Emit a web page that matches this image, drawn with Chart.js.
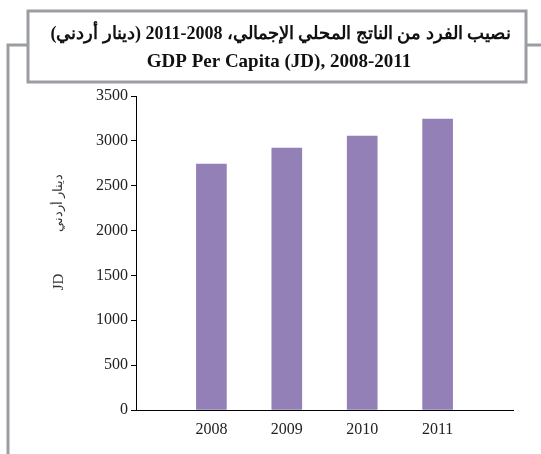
<!DOCTYPE html>
<html>
<head>
<meta charset="utf-8">
<script src="https://cdn.jsdelivr.net/npm/chart.js@4/dist/chart.umd.min.js"></script>
<style>
html,body{margin:0;padding:0;background:#fff;}
#wrap{width:541px;height:454px;position:relative;}
</style>
</head>
<body>
<div id="wrap"><canvas id="c" width="541" height="454"></canvas></div>
<script>
const years = ['2008', '2009', '2010', '2011'];
const gdpPerCapita = [2742, 2920, 3054, 3243];
const yTicks = [0, 500, 1000, 1500, 2000, 2500, 3000, 3500];
const titleArabic = 'نصيب الفرد من الناتج المحلي الإجمالي، 2008-2011 (دينار أردني)';
const titleEnglish = 'GDP Per Capita (JD), 2008-2011';
const yTitleArabic = 'دينار أردني';
const yTitleEnglish = 'JD';

const labels = [''].concat(years, ['']);
const values = [null].concat(gdpPerCapita, [null]);

const SERIF = '"Liberation Serif", "Times New Roman", "DejaVu Serif", serif';
const GREY = '#9a9ea2';

const decor = {
  id: 'decor',
  beforeDraw(chart) {
    const ctx = chart.ctx;
    ctx.save();
    ctx.fillStyle = '#fff';
    ctx.fillRect(0, 0, chart.width, chart.height);
    ctx.strokeStyle = GREY;
    ctx.lineWidth = 3;
    ctx.beginPath();
    ctx.moveTo(8, 454);
    ctx.lineTo(8, 45);
    ctx.lineTo(28, 45);
    ctx.moveTo(526, 45);
    ctx.lineTo(541, 45);
    ctx.stroke();
    ctx.fillStyle = '#fff';
    ctx.fillRect(28, 11, 498, 71);
    ctx.strokeRect(28, 11, 498, 71);
    ctx.fillStyle = '#111';
    ctx.textAlign = 'center';
    ctx.textBaseline = 'middle';
    ctx.font = 'bold 18px ' + SERIF;
    ctx.direction = 'rtl';
    ctx.fillText(titleArabic, 281, 34);
    ctx.direction = 'ltr';
    ctx.font = 'bold 19px ' + SERIF;
    ctx.fillText(titleEnglish, 279, 62);
    // y axis titles
    ctx.fillStyle = '#333';
    ctx.save();
    ctx.translate(59, 203);
    ctx.rotate(-Math.PI / 2);
    ctx.font = '13px ' + SERIF;
    ctx.direction = 'rtl';
    ctx.fillText(yTitleArabic, 0, 0);
    ctx.restore();
    ctx.save();
    ctx.translate(59, 282);
    ctx.rotate(-Math.PI / 2);
    ctx.direction = 'ltr';
    ctx.font = '15px ' + SERIF;
    ctx.fillText(yTitleEnglish, 0, 0);
    ctx.restore();
    ctx.restore();
  }
};

new Chart(document.getElementById('c'), {
  type: 'bar',
  data: {
    labels: labels,
    datasets: [{
      data: values,
      backgroundColor: '#9380b7',
      borderWidth: 0,
      barThickness: 30
    }]
  },
  options: {
    responsive: false,
    animation: false,
    devicePixelRatio: 1,
    layout: { padding: { top: 96, right: 28, bottom: 14, left: 0 } },
    plugins: { legend: { display: false }, tooltip: { enabled: false }, title: { display: false } },
    scales: {
      x: {
        offset: false,
        grid: { display: false, drawTicks: false },
        border: { display: true, color: '#000', width: 1 },
        ticks: { color: '#222', font: { family: SERIF, size: 16 }, padding: 10, maxRotation: 0, autoSkip: false },
        afterFit(scale) { scale.height = 30; }
      },
      y: {
        min: 0,
        max: 3500,
        afterBuildTicks(scale) { scale.ticks = yTicks.map(v => ({ value: v })); },
        grid: { drawOnChartArea: false, drawTicks: true, tickLength: 5, color: '#000' },
        border: { display: true, color: '#000', width: 1 },
        ticks: { color: '#222', font: { family: SERIF, size: 16 }, padding: 3, callback: v => String(v) },
        afterFit(scale) { scale.width = 136; }
      }
    }
  },
  plugins: [decor]
});
</script>
</body>
</html>
